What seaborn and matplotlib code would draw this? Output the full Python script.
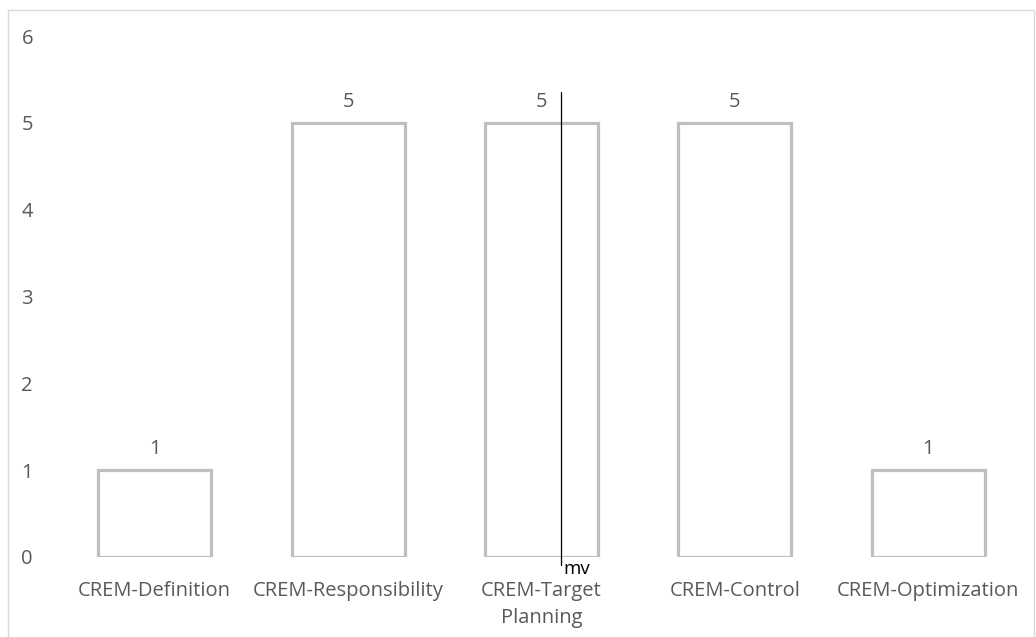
import matplotlib
matplotlib.use("Agg")
import matplotlib.pyplot as plt
from matplotlib.patches import Rectangle
import seaborn as sns
import pandas as pd

categories = ["CREM-Definition", "CREM-Responsibility", "CREM-Target\nPlanning",
              "CREM-Control", "CREM-Optimization"]
counts = [1, 5, 5, 5, 1]
y_ticks = [0, 1, 2, 3, 4, 5, 6]

# vertical marker line with its label
marker_x = [2.1, 2.1]
marker_y = [-0.09, 5.36]
marker_label = "mv"

sns.set_theme(style="white")
plt.rcParams["font.family"] = ["Open Sans", "DejaVu Sans"]

text_color = "#595959"
edge_color = "#BFBFBF"
font_size = 14.5

df = pd.DataFrame({"category": categories, "count": counts})

fig = plt.figure(figsize=(10.36, 6.37), dpi=100)
ax = fig.add_axes([58 / 1036, 80 / 637, (1025 - 58) / 1036, (557 - 36) / 637])

sns.barplot(data=df, x="category", y="count", ax=ax, width=0.585,
            facecolor="none", edgecolor=edge_color, linewidth=2.3)

for i, v in enumerate(counts):
    ax.annotate(str(v), (i, v), xytext=(0, 8), textcoords="offset points",
                ha="center", va="bottom", fontsize=font_size, color=text_color)

ax.plot(marker_x, marker_y, color="black", linewidth=0.9, clip_on=False)
ax.text(marker_x[0] + 0.015, -0.2, marker_label, ha="left", va="baseline",
        fontsize=font_size - 1, color="black")

ax.set_xlim(-0.5, 4.5)
ax.set_ylim(0, 6)
ax.set_yticks(y_ticks)
ax.set_yticklabels([str(t) for t in y_ticks])
ax.tick_params(axis="y", length=0, pad=18, labelsize=font_size, labelcolor=text_color)
ax.tick_params(axis="x", length=0, pad=17, labelsize=font_size, labelcolor=text_color)
for lbl in ax.get_xticklabels():
    lbl.set_linespacing(1.5)
ax.set_xlabel("")
ax.set_ylabel("")
for s in ax.spines.values():
    s.set_visible(False)

# chart frame
fig.patches.append(Rectangle((8 / 1036, -0.01), (1034 - 8) / 1036, 1.01 - 10 / 637,
                             transform=fig.transFigure, fill=False,
                             edgecolor="#D9D9D9", linewidth=1.0))

fig.savefig("out.png", dpi=100)
